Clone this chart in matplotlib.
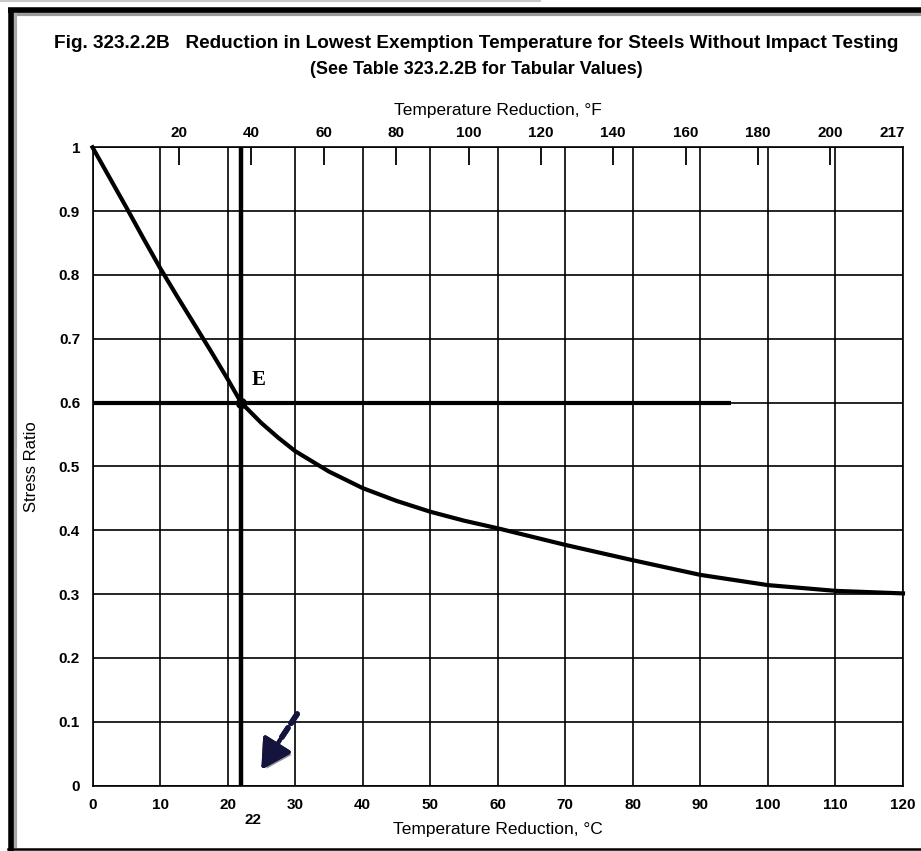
import matplotlib
matplotlib.use("Agg")
import matplotlib.pyplot as plt
from matplotlib import font_manager
from matplotlib.lines import Line2D
import matplotlib.patheffects as pe


def pick_font(*names):
    for name in names:
        try:
            font_manager.findfont(font_manager.FontProperties(family=name),
                                  fallback_to_default=False)
            return name
        except ValueError:
            continue
    return "DejaVu Sans"


NARROW = pick_font("Liberation Sans Narrow", "DejaVu Sans Condensed", "Liberation Sans")
SANS = pick_font("Liberation Sans", "DejaVu Sans")
SERIF = pick_font("Liberation Serif", "DejaVu Serif")

# Stress ratio curve (temperature reduction in degC vs stress ratio)
temp_c = [0, 2.5, 5, 7.5, 10, 12.5, 15, 17.5, 20, 22, 25, 27.5, 30, 35, 40,
          45, 50, 55, 60, 65, 70, 80, 90, 100, 110, 120]
stress_ratio = [1.0, 0.953, 0.906, 0.858, 0.811, 0.767, 0.724, 0.681, 0.637,
                0.60, 0.568, 0.545, 0.524, 0.492, 0.466, 0.446, 0.429, 0.415,
                0.403, 0.390, 0.377, 0.353, 0.330, 0.314, 0.305, 0.301]

# Point E construction lines
point_e_temp = 22
point_e_ratio = 0.6
ratio_line_end = 94.5

# Axis ticks
c_ticks = [0, 10, 20, 30, 40, 50, 60, 70, 80, 90, 100, 110, 120]
ratio_ticks = [0, 0.1, 0.2, 0.3, 0.4, 0.5, 0.6, 0.7, 0.8, 0.9, 1.0]
ratio_tick_labels = ["0", "0.1", "0.2", "0.3", "0.4", "0.5", "0.6", "0.7",
                     "0.8", "0.9", "1"]
f_ticks = [20, 40, 60, 80, 100, 120, 140, 160, 180, 200, 217]

# Printed degF scale along the top edge (degC position = F_OFFSET + F * F_SCALE)
F_OFFSET = 2.1
F_SCALE = 0.5357

W, H = 921, 851
fig = plt.figure(figsize=(W / 100, H / 100), dpi=100)
fig.patch.set_facecolor("white")

ax = fig.add_axes([92.5 / W, 1 - 785.5 / H, (903 - 92.5) / W, (785.5 - 147.3) / H])
ax.set_xlim(0, 120)
ax.set_ylim(0, 1)

# Grid
for t in c_ticks:
    ax.axvline(t, color="black", lw=1.2, zorder=1)
for r in ratio_ticks:
    ax.axhline(r, color="black", lw=1.2, zorder=1)

# Construction lines through E
ax.plot([point_e_temp, point_e_temp], [0, 1], color="black", lw=3.2,
        solid_capstyle="butt", zorder=3)
ax.plot([0, ratio_line_end], [point_e_ratio, point_e_ratio], color="black",
        lw=3.0, solid_capstyle="butt", zorder=3)

# Curve
ax.plot(temp_c, stress_ratio, color="black", lw=3.0, zorder=4,
        solid_joinstyle="round", clip_on=False)
ax.plot([point_e_temp], [point_e_ratio], "o", color="black", ms=7, zorder=5)
ax.text(point_e_temp + 1.5, point_e_ratio + 0.02, "E", fontfamily=SERIF,
        fontweight="bold", fontsize=15, ha="left", va="bottom")

# Pointer arrow
arrow_tail = (30.3, 0.112)
arrow_mid = (27.8, 0.072)
arrow_tip = (25.0, 0.025)
shadow = [pe.withSimplePatchShadow(offset=(2, -2), shadow_rgbFace="#444444", alpha=0.6),
          pe.Normal()]
ax.annotate("", xy=arrow_mid, xytext=arrow_tail,
            arrowprops=dict(arrowstyle="-", color="#14143f", lw=4,
                            linestyle=(0, (2, 1.0)), shrinkA=0, shrinkB=0,
                            path_effects=shadow), zorder=6)
ax.annotate("", xy=arrow_tip, xytext=arrow_mid,
            arrowprops=dict(arrowstyle="-|>,head_length=1.8,head_width=1.0",
                            color="#14143f", lw=3, shrinkA=0, shrinkB=0,
                            path_effects=shadow), zorder=6)

# Axes styling
for s in ax.spines.values():
    s.set_linewidth(1.2)
    s.set_color("black")
ax.set_xticks(c_ticks)
ax.set_yticks(ratio_ticks)
ax.set_yticklabels(ratio_tick_labels)
ax.tick_params(axis="both", length=0, labelsize=11)
ax.tick_params(axis="x", pad=9)
ax.tick_params(axis="y", pad=9)
for lab in ax.get_xticklabels() + ax.get_yticklabels():
    lab.set_fontfamily(SANS)
    lab.set_fontweight("bold")
ax.set_xlabel("Temperature Reduction, \u00b0C", fontfamily=NARROW, fontsize=12.5,
              labelpad=7)
ax.set_ylabel("Stress Ratio", fontfamily=NARROW, fontsize=12)
ax.yaxis.set_label_coords(-0.066, 0.5)
ax.text(point_e_temp + 1.7, -0.043, str(point_e_temp), transform=ax.transData,
        ha="center", va="top", fontfamily=SANS, fontweight="bold", fontsize=11)

# Top degF axis
secax = ax.secondary_xaxis(
    "top",
    functions=(lambda c: (c - F_OFFSET) / F_SCALE, lambda f: F_OFFSET + f * F_SCALE))
secax.set_xticks(f_ticks)
secax.set_xticklabels([str(f) for f in f_ticks])
secax.tick_params(direction="in", length=13, width=1.3, labelsize=11, pad=5)
for lab in secax.get_xticklabels():
    lab.set_fontfamily(SANS)
    lab.set_fontweight("bold")
secax.xaxis.get_major_ticks()[-1].tick2line.set_visible(False)
secax.xaxis.get_major_ticks()[-1].tick1line.set_visible(False)
secax.spines["top"].set_visible(False)
secax.set_xlabel("Temperature Reduction, \u00b0F", fontfamily=NARROW, fontsize=12.5,
                 labelpad=8)

# Titles
fig.text(476.5 / W, 1 - 44 / H,
         "Fig. 323.2.2B   Reduction in Lowest Exemption Temperature for Steels Without Impact Testing",
         ha="center", va="center", fontfamily=NARROW, fontweight="bold", fontsize=13.7)
fig.text(476 / W, 1 - 70 / H, "(See Table 323.2.2B for Tabular Values)",
         ha="center", va="center", fontfamily=NARROW, fontweight="bold", fontsize=13)


# Page frame
def px_line(xs, ys, **kw):
    fig.add_artist(Line2D([x / W for x in xs], [1 - y / H for y in ys],
                          transform=fig.transFigure, **kw))


px_line([0, 540], [1, 1], color="#c8c8c8", lw=1.5)
px_line([14, 921], [14, 14], color="#9a9a9a", lw=3)
px_line([15, 15], [14, 846], color="#a8a8a8", lw=3)
px_line([8, 921], [9.5, 9.5], color="black", lw=4, solid_capstyle="butt")
px_line([10.5, 10.5], [8, 851], color="black", lw=4, solid_capstyle="butt")
px_line([8, 921], [849, 849], color="black", lw=1.8)

fig.savefig("out.png", dpi=100, facecolor="white")
